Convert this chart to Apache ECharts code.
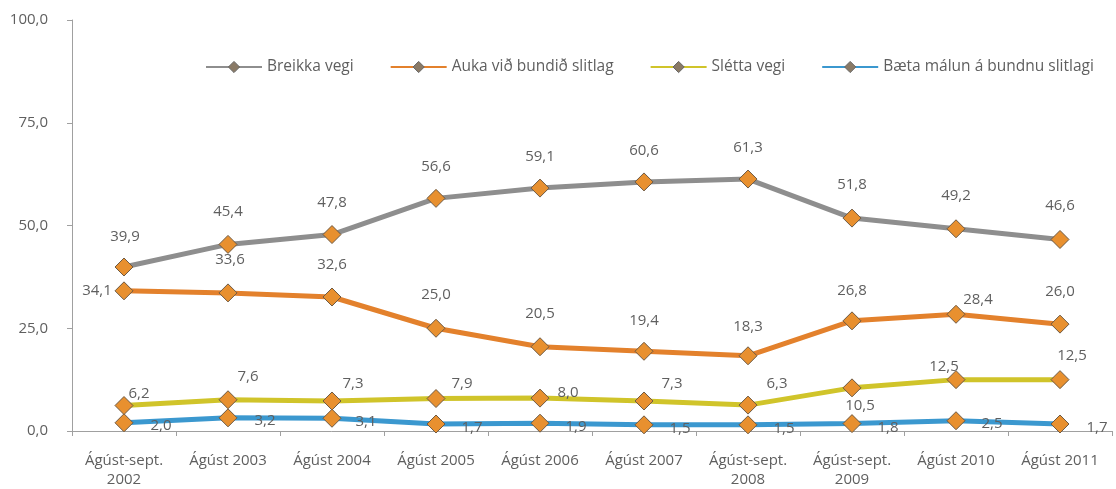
<!DOCTYPE html>
<html>
<head>
<meta charset="utf-8">
<script src="https://cdn.jsdelivr.net/npm/echarts@6/dist/echarts.min.js"></script>
<style>
html,body{margin:0;padding:0;background:#fff;}
#chart{width:1116px;height:489px;}
</style>
</head>
<body>
<div id="chart"></div>
<script>
const categories = ['Ágúst-sept.\n2002','Ágúst 2003','Ágúst 2004','Ágúst 2005','Ágúst 2006','Ágúst 2007','Ágúst-sept.\n2008','Ágúst-sept.\n2009','Ágúst 2010','Ágúst 2011'];
const seriesNames = ['Breikka vegi','Auka við bundið slitlag','Slétta vegi','Bæta málun á bundnu slitlagi'];
const breikka = [39.9, 45.4, 47.8, 56.6, 59.1, 60.6, 61.3, 51.8, 49.2, 46.6];
const auka = [34.1, 33.6, 32.6, 25.0, 20.5, 19.4, 18.3, 26.8, 28.4, 26.0];
const sletta = [6.2, 7.6, 7.3, 7.9, 8.0, 7.3, 6.3, 10.5, 12.5, 12.5];
const baeta = [2.0, 3.2, 3.1, 1.7, 1.9, 1.5, 1.5, 1.8, 2.5, 1.7];
const yTicks = [0, 25, 50, 75, 100];

const fmt = v => v.toFixed(1).replace('.', ',');
const font = 'Open Sans';
const txt = '#5f5f5f';

// label offsets (style, relative to marker centre)
const offs = [
  [[1,-30],[0,-33],[0,-32],[0,-32],[0,-31],[0,-31],[0,-31],[0,-33],[0,-33],[0,-34]],
  [[-27,0],[2,-33],[0,-32],[0,-34],[0,-33],[0,-31],[0,-29],[0,-30],[22,-15],[0,-32]],
  [[15,-12],[20,-23],[21,-17],[26,-15],[28,-5],[28,-17],[29,-21],[8,18],[-12,-13],[12,-24]],
  [[37,3],[37,3],[34,3],[36,4],[36,4],[36,4],[36,4],[36,4],[36,3],[37,4]]
];
const colors = ['#8e8e8e','#e3812c','#d0c42a','#3b98cf'];
const datasets = [breikka, auka, sletta, baeta];

const series = datasets.map((arr, si) => ({
  name: seriesNames[si],
  type: 'line',
  symbol: 'diamond',
  symbolSize: 18,
  z: 10 - si,
  lineStyle: {color: colors[si], width: 5},
  itemStyle: {color: '#e8902f', borderColor: '#6e5a44', borderWidth: 1},
  data: arr.map((v, i) => ({
    value: v,
    label: {show: true, position: 'inside', offset: offs[si][i]}
  })),
  label: {
    show: true,
    formatter: p => fmt(p.value),
    color: txt, fontFamily: font, fontSize: 15
  },
  emphasis: {disabled: true},
  animation: false
}));

const chart = echarts.init(document.getElementById('chart'));
chart.setOption({
  animation: false,
  backgroundColor: '#ffffff',
  color: colors,
  grid: {left: 72, right: 4, top: 20, bottom: 57, containLabel: false},
  legend: {
    top: 54, left: 200,
    itemWidth: 56, itemHeight: 14, itemGap: 36,
    textStyle: {color: txt, fontFamily: font, fontSize: 15.5},
    itemStyle: {color: '#8a7a66', borderColor: '#666', borderWidth: 1},
    data: seriesNames
  },
  xAxis: {
    type: 'category',
    data: categories,
    boundaryGap: true,
    axisLine: {lineStyle: {color: '#a0a0a0', width: 1}},
    axisTick: {show: true, length: 5, lineStyle: {color: '#a0a0a0'}},
    axisLabel: {color: txt, fontFamily: font, fontSize: 15, lineHeight: 19, margin: 20, interval: 0}
  },
  yAxis: {
    type: 'value',
    min: yTicks[0], max: yTicks[yTicks.length - 1], interval: 25,
    splitLine: {show: false},
    axisLine: {show: true, lineStyle: {color: '#a0a0a0', width: 1}},
    axisTick: {show: true, length: 5, lineStyle: {color: '#a0a0a0'}},
    axisLabel: {color: txt, fontFamily: font, fontSize: 15, margin: 24, formatter: v => fmt(v)}
  },
  series: series
});
</script>
</body>
</html>
